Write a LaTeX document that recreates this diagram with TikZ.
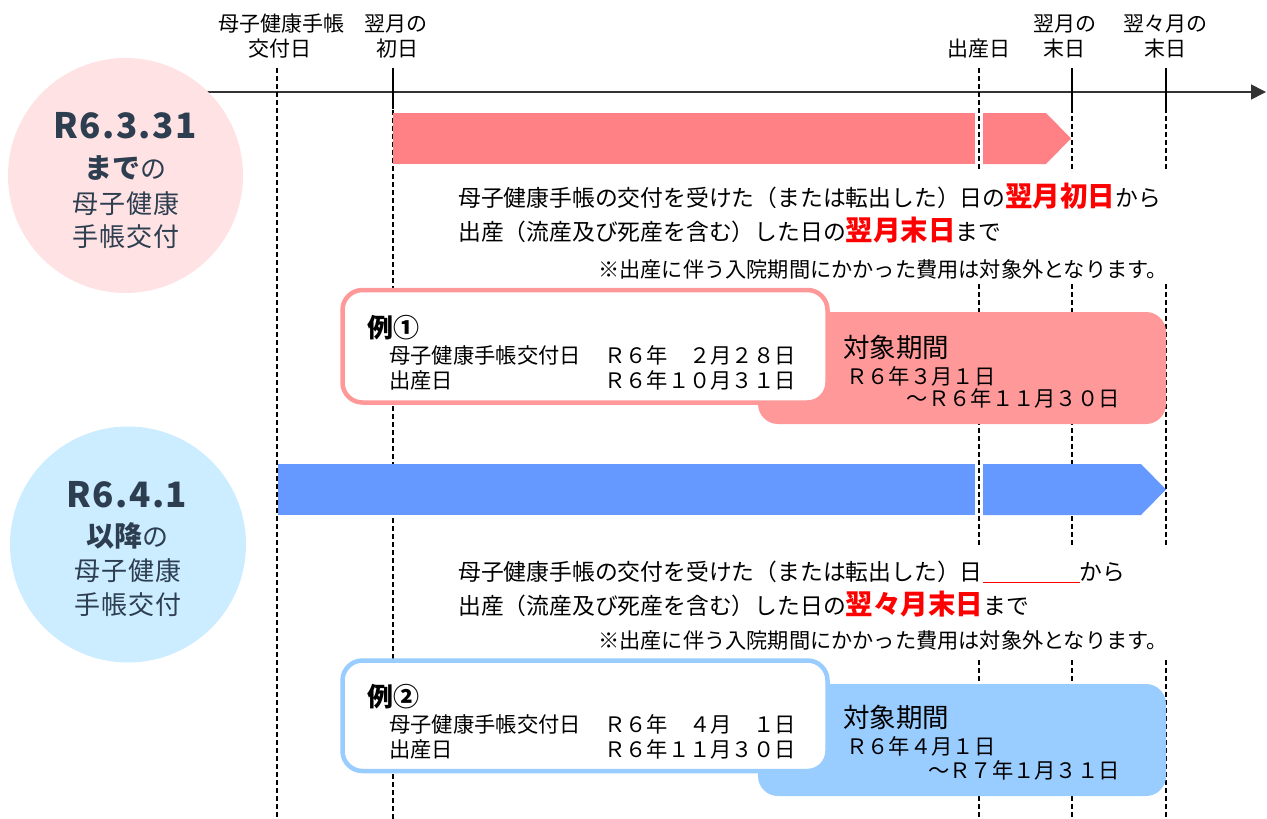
\documentclass[tikz,border=0pt]{standalone}
\usepackage{fontspec}
\newfontfamily\jp{Noto Sans CJK JP}
\newfontfamily\jpc{Noto Sans CJK JP}[LetterSpace=4]
\newfontfamily\jpl{Noto Sans CJK JP}[LetterSpace=5]
\usetikzlibrary{arrows.meta}
\definecolor{pinkbar}{RGB}{255,128,133}
\definecolor{bluebar}{RGB}{102,153,255}
\definecolor{pinkc}{RGB}{255,226,228}
\definecolor{bluec}{RGB}{204,236,255}
\definecolor{pinkb}{RGB}{255,153,153}
\definecolor{blueb}{RGB}{153,204,255}
\definecolor{slate}{RGB}{45,62,80}
\newcommand\fsz[1]{\fontsize{#1}{#1}\selectfont}
\begin{document}
\begin{tikzpicture}[x=1pt,y=-1pt,
  every node/.style={font=\jp, inner sep=0pt},
  dashln/.style={black, line width=1.2pt, dash pattern=on 5pt off 3pt},
  tickln/.style={black, line width=2.2pt},
  lbl/.style={anchor=base, font=\jp\fsz{21}},
  ctext/.style={anchor=base, text=slate},
  body/.style={anchor=base west, font=\jp\fsz{22.8}},
  note/.style={anchor=base west, font=\jp\fsz{21.2}},
  ex/.style={font=\jp\fsz{21.3}},
  exbox/.style={line width=4.5pt, fill=white, rounded corners=20pt},
  perbox/.style={rounded corners=20pt}]
\useasboundingbox (0,0) rectangle (1267,819);

% axis
\coordinate (axs) at (200,92);
\coordinate (axe) at (1266,92);
\draw[line width=1.6pt, black!80, -{Triangle[length=15pt,width=15pt]}] (axs) -- (axe);

% vertical guide lines
\foreach \n/\x/\s in {a/277/68, b/393/110, c/979/68, d/1072/108, e/1166/108}{
  \coordinate (\n top) at (\x,\s);
  \coordinate (\n bot) at (\x,819);
  \draw[dashln] (\n top) -- (\n bot);
}
\foreach \n/\x in {b/393, d/1072, e/1166}{
  \coordinate (\n t0) at (\x,68);
  \coordinate (\n t1) at (\x,109);
  \draw[tickln] (\n t0) -- (\n t1);
}

% bars
\fill[pinkbar] (393,113) rectangle (975,164);
\fill[pinkbar] (983,113) -- (1046,113) -- (1071,138.5) -- (1046,164) -- (983,164) -- cycle;
\fill[bluebar] (278,464) rectangle (975,515);
\fill[bluebar] (983,464) -- (1141,464) -- (1166,489.5) -- (1141,515) -- (983,515) -- cycle;

% white areas behind text blocks
\fill[white] (450,172) rectangle (1180,283);
\fill[white] (450,546) rectangle (1180,658);

% circles
\fill[pinkc] (125.5,175.5) circle (117.5);
\fill[bluec] (128,544.5) circle (118);

\node[ctext, font=\jpc\bfseries\fsz{35}] (c1a) at (125,138) {R6.3.31};
\node[ctext] (c1b) at (125,178) {\bfseries\fsz{28}まで\mdseries\fsz{26}の};
\node[ctext, font=\jpl\fsz{26}] (c1c) at (126,213) {母子健康};
\node[ctext, font=\jpl\fsz{26}] (c1d) at (126,246) {手帳交付};

\node[ctext, font=\jpc\bfseries\fsz{35}] (c2a) at (127,507) {R6.4.1};
\node[ctext] (c2b) at (127,546) {\bfseries\fsz{28}以降\mdseries\fsz{26}の};
\node[ctext, font=\jpl\fsz{26}] (c2c) at (128,580) {母子健康};
\node[ctext, font=\jpl\fsz{26}] (c2d) at (128,614) {手帳交付};

% top labels
\node[lbl] (l1a) at (281,31) {母子健康手帳};
\node[lbl] (l1b) at (280,56) {交付日};
\node[lbl] (l2a) at (396,31) {翌月の};
\node[lbl] (l2b) at (397,56) {初日};
\node[lbl] (l3b) at (979,56) {出産日};
\node[lbl] (l4a) at (1065,31) {翌月の};
\node[lbl] (l4b) at (1064,56) {末日};
\node[lbl] (l5a) at (1165,31) {翌々月の};
\node[lbl] (l5b) at (1165,56) {末日};

% upper text block
\node[body] (u1) at (458,206) {母子健康手帳の交付を受けた（または転出した）日の\textcolor{red}{\bfseries\fsz{27.5}翌月初日}から};
\node[body] (u2) at (458,240) {出産（流産及び死産を含む）した日の\textcolor{red}{\bfseries\fsz{27.5}翌月末日}まで};
\node[note] (u3) at (598,277) {※出産に伴う入院期間にかかった費用は対象外となります。};

% lower text block
\node[body] (d1) at (458,580) {母子健康手帳の交付を受けた（または転出した）日\textcolor{red}{\rule[-3pt]{97pt}{0.9pt}}から};
\node[body] (d2) at (458,614) {出産（流産及び死産を含む）した日の\textcolor{red}{\bfseries\fsz{27.5}翌々月末日}まで};
\node[note] (d3) at (598,648) {※出産に伴う入院期間にかかった費用は対象外となります。};

% example 1
\fill[pinkb, perbox] (758,312) rectangle (1166,424);
\draw[pinkb, exbox] (342.5,290) rectangle (827.5,402.5);
\node[anchor=base west, font=\jp\bfseries\fsz{26}] (e1t) at (367,337) {例①};
\node[ex, anchor=base west] (e1a) at (389,363) {母子健康手帳交付日};
\node[ex, anchor=base east] (e1b) at (796,363) {Ｒ６年　２月２８日};
\node[ex, anchor=base west] (e1c) at (389,388) {出産日};
\node[ex, anchor=base east] (e1d) at (796,388) {Ｒ６年１０月３１日};
\node[anchor=base west, font=\jp\fsz{26.5}] (p1a) at (843,357) {対象期間};
\node[ex, anchor=base west] (p1b) at (846,384) {Ｒ６年３月１日};
\node[ex, anchor=base east] (p1c) at (1120,406) {～Ｒ６年１１月３０日};

% example 2
\fill[blueb, perbox] (758,684) rectangle (1166,796);
\draw[blueb, exbox] (342.5,660.5) rectangle (827.5,771);
\node[anchor=base west, font=\jp\bfseries\fsz{26}] (e2t) at (367,706) {例②};
\node[ex, anchor=base west] (e2a) at (389,732) {母子健康手帳交付日};
\node[ex, anchor=base east] (e2b) at (796,732) {Ｒ６年　４月　１日};
\node[ex, anchor=base west] (e2c) at (389,757) {出産日};
\node[ex, anchor=base east] (e2d) at (796,757) {Ｒ６年１１月３０日};
\node[anchor=base west, font=\jp\fsz{26.5}] (p2a) at (843,727) {対象期間};
\node[ex, anchor=base west] (p2b) at (846,754) {Ｒ６年４月１日};
\node[ex, anchor=base east] (p2c) at (1120,778) {～Ｒ７年１月３１日};
\end{tikzpicture}
\end{document}
